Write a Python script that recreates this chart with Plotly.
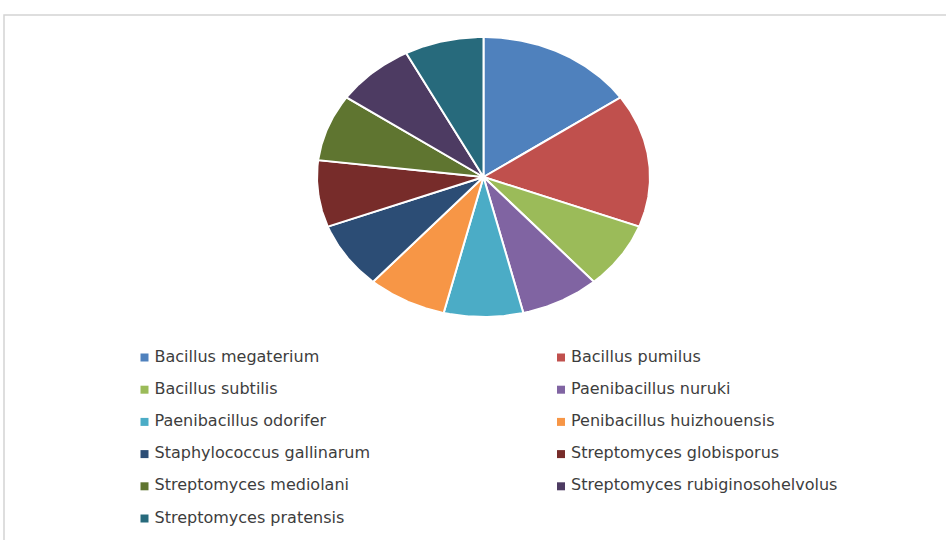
import numpy as np
import plotly.graph_objects as go

# Isolate counts per species
species = [
    "Bacillus megaterium", "Bacillus pumilus", "Bacillus subtilis",
    "Paenibacillus nuruki", "Paenibacillus odorifer", "Penibacillus huizhouensis",
    "Staphylococcus gallinarum", "Streptomyces globisporus", "Streptomyces mediolani",
    "Streptomyces rubiginosohelvolus", "Streptomyces pratensis",
]
counts = [2, 2, 1, 1, 1, 1, 1, 1, 1, 1, 1]
colors = [
    "#4F81BD", "#C0504D", "#9BBB59", "#8064A2", "#4BACC6", "#F79646",
    "#2C4D75", "#772C2A", "#5F7530", "#4D3B62", "#276A7C",
]

W, H = 946, 540
CX, CY, RX, RY = 483.5, 177.0, 166.5, 140.0

fig = go.Figure()

# Pie slices as filled wedges on an elliptical outline, clockwise from 12 o'clock
total = float(sum(counts))
start = 0.0
for name, val, col in zip(species, counts, colors):
    span = 2 * np.pi * val / total
    th = np.linspace(start, start + span, max(int(np.degrees(span)), 2) * 2)
    xs = np.concatenate([[CX], CX + RX * np.sin(th), [CX]])
    ys = np.concatenate([[CY], CY - RY * np.cos(th), [CY]])
    fig.add_trace(go.Scatter(
        x=xs, y=ys, mode="lines", fill="toself", fillcolor=col,
        line=dict(color="white", width=2), name=name, showlegend=False,
        hoverinfo="name",
    ))
    start += span

# Two-column legend, row-major order
col_x = [144.5, 561.0]
row_y0, row_dy = 357.5, 32.2
lx = [col_x[i % 2] for i in range(len(species))]
ly = [row_y0 + row_dy * (i // 2) for i in range(len(species))]
fig.add_trace(go.Scatter(
    x=lx, y=ly, mode="markers",
    marker=dict(symbol="square", size=8, color=colors, line=dict(width=0)),
    showlegend=False, hoverinfo="skip",
))
fig.add_trace(go.Scatter(
    x=[v + 10 for v in lx], y=ly, mode="text", text=species,
    textposition="middle right",
    textfont=dict(family="DejaVu Sans, sans-serif", size=16, color="#3d3d3d"),
    showlegend=False, hoverinfo="skip",
))

# Light frame around the chart area
fig.add_shape(type="rect", xref="x", yref="y", x0=4, y0=15, x1=W + 20, y1=H + 20,
              line=dict(color="#d4d4d4", width=1.5), fillcolor="rgba(0,0,0,0)",
              layer="below")

fig.update_layout(
    width=W, height=H,
    margin=dict(l=0, r=0, t=0, b=0),
    paper_bgcolor="white", plot_bgcolor="white",
    xaxis=dict(range=[0, W], visible=False, fixedrange=True),
    yaxis=dict(range=[H, 0], visible=False, fixedrange=True),
    showlegend=False,
)

fig.write_html("out.html")
